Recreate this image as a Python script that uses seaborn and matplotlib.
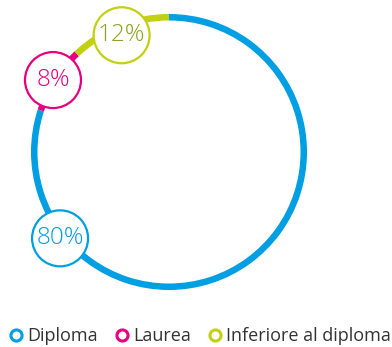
import matplotlib
matplotlib.use("Agg")
import matplotlib.pyplot as plt
from matplotlib.lines import Line2D
from matplotlib.patches import Circle
import numpy as np
import seaborn as sns

# Distribution by education level
categories = ["Diploma", "Laurea", "Inferiore al diploma"]
shares = [80, 8, 12]
labels = ["80%", "8%", "12%"]
colors = ["#009fe3", "#e5007d", "#c2d00f"]
text_colors = ["#009fe3", "#e5007d", "#8ea21c"]

sns.set_theme(style="white")
plt.rcParams["font.family"] = ["Open Sans", "DejaVu Sans"]

W, H = 392, 347
fig = plt.figure(figsize=(W / 100, H / 100), dpi=100)
ax = fig.add_axes([0, 0, 1, 1])
ax.set_xlim(0, W)
ax.set_ylim(0, H)
ax.set_aspect("equal")
ax.axis("off")

cx, cy, R = 169, H - 152, 138

# thin ring, clockwise from 12 o'clock
ax.pie(shares, colors=colors, startangle=90, counterclock=False,
       center=(cx, cy), radius=R, frame=True,
       wedgeprops=dict(width=6.5, edgecolor="none", linewidth=0))
ax.set_xlim(0, W)
ax.set_ylim(0, H)
ax.axis("off")

# badge placement: angle (deg, counter-clockwise from top) and distance from centre
badge_angle = [128.4, 58.2, 22.1]
badge_dist = [139, 136.5, 126]
for lab, col, tcol, a, d in zip(labels, colors, text_colors, badge_angle, badge_dist):
    t = np.deg2rad(a)
    bx = cx - d * np.sin(t)
    by = cy + d * np.cos(t)
    ax.add_patch(Circle((bx, by), 28, facecolor="white", edgecolor=col,
                        linewidth=1.6, zorder=5))
    ax.text(bx, by, lab, color=tcol, fontsize=17.5, fontweight="light",
            ha="center", va="center", zorder=6)

handles = [Line2D([0], [0], marker="o", linestyle="none", markersize=8,
                  markerfacecolor="white", markeredgecolor=c, markeredgewidth=2.2)
           for c in colors]
fig.legend(handles, categories, loc="center", bbox_to_anchor=(0.51, 1 - 336 / H),
           ncol=3, frameon=False, fontsize=13, handletextpad=0.25,
           columnspacing=0.9, handlelength=0.8, borderpad=0,
           labelcolor="#333333")

fig.savefig("out.png", dpi=100)
